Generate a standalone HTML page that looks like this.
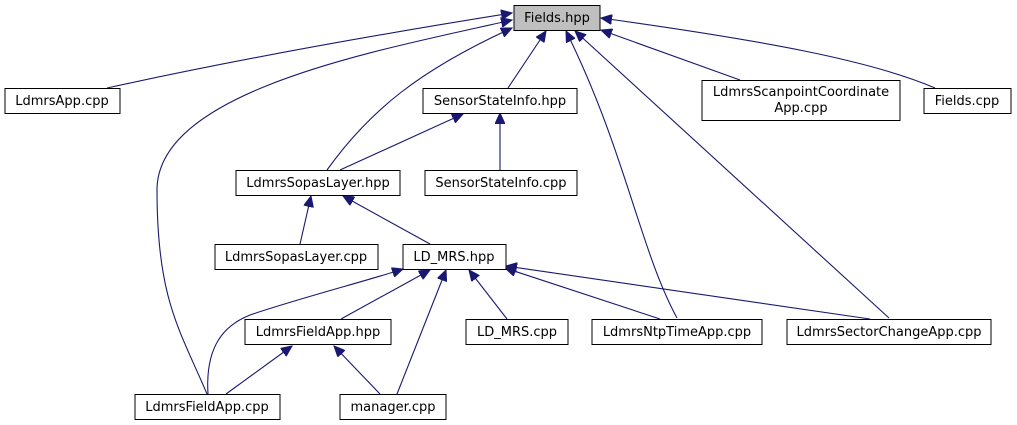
<!DOCTYPE html>
<html><head><meta charset="utf-8"><style>
html,body{margin:0;padding:0;background:#fff;}
svg{display:block;}
text{font-family:"DejaVu Sans","Liberation Sans",sans-serif;font-size:13px;fill:#000;text-anchor:middle;}
.n{fill:#fff;stroke:#000;stroke-width:1;}
.e{fill:none;stroke:#191970;stroke-width:1.1;}
</style></head><body>
<svg width="1017" height="425" viewBox="0 0 1017 425" xmlns="http://www.w3.org/2000/svg">
<defs>
<marker id="a" markerUnits="userSpaceOnUse" markerWidth="12" markerHeight="10" refX="11" refY="5" orient="auto">
<path d="M0,0 L11,5 L0,10 Z" fill="#191970" stroke="#191970"/>
</marker>
</defs>
<g marker-end="url(#a)">
<path class="e" d="M107,88 Q280,50 512,13"/>
<path class="e" d="M207,394 C180,330 157,300 157,190 C157,90 380,50 512,20"/>
<path class="e" d="M327,170 C370,110 420,70 512,28"/>
<path class="e" d="M508,88 L546,31"/>
<path class="e" d="M677,318 C640,250 625,150 566,31"/>
<path class="e" d="M889,318 L575,31"/>
<path class="e" d="M740,80 L601,30"/>
<path class="e" d="M935,88 C870,60 760,40 601,18"/>
<path class="e" d="M500,170 L500,113"/>
<path class="e" d="M340,170 L463,114"/>
<path class="e" d="M300,244 L311,196"/>
<path class="e" d="M430,244 L343,196"/>
<path class="e" d="M341,319 L430,270"/>
<path class="e" d="M208,394 C205,345 225,325 250,315 C300,298 370,280 403,269"/>
<path class="e" d="M397,394 L446,270"/>
<path class="e" d="M507,319 L469,270"/>
<path class="e" d="M660,319 L505,268"/>
<path class="e" d="M870,319 L506,266"/>
<path class="e" d="M226,394 L292,346"/>
<path class="e" d="M380,394 L334,346"/>
</g>
<rect x="514" y="5.5" width="86" height="25" fill="#bfbfbf" stroke="#000"/><text x="557" y="22">Fields.hpp</text>
<rect class="n" x="5" y="88.5" width="115" height="25"/><text x="62" y="105">LdmrsApp.cpp</text>
<rect class="n" x="423" y="88.5" width="154" height="25"/><text x="500" y="105">SensorStateInfo.hpp</text>
<rect class="n" x="702" y="80.5" width="198" height="40"/><text x="801" y="96">LdmrsScanpointCoordinate</text><text x="801" y="112">App.cpp</text>
<rect class="n" x="924" y="88.5" width="87" height="25"/><text x="967" y="105">Fields.cpp</text>
<rect class="n" x="236" y="170.5" width="164" height="25"/><text x="318" y="187">LdmrsSopasLayer.hpp</text>
<rect class="n" x="425" y="170.5" width="152" height="25"/><text x="501" y="187">SensorStateInfo.cpp</text>
<rect class="n" x="215" y="244.5" width="163" height="25"/><text x="296" y="261">LdmrsSopasLayer.cpp</text>
<rect class="n" x="403" y="244.5" width="103" height="25"/><text x="454" y="261">LD_MRS.hpp</text>
<rect class="n" x="245" y="319.5" width="146" height="25"/><text x="318" y="336">LdmrsFieldApp.hpp</text>
<rect class="n" x="466" y="319.5" width="102" height="25"/><text x="517" y="336">LD_MRS.cpp</text>
<rect class="n" x="592" y="319.5" width="170" height="25"/><text x="677" y="336">LdmrsNtpTimeApp.cpp</text>
<rect class="n" x="787" y="319.5" width="204" height="25"/><text x="889" y="336">LdmrsSectorChangeApp.cpp</text>
<rect class="n" x="135" y="394.5" width="145" height="25"/><text x="207" y="411">LdmrsFieldApp.cpp</text>
<rect class="n" x="340" y="394.5" width="106" height="25"/><text x="393" y="411">manager.cpp</text>
</svg>
</body></html>
